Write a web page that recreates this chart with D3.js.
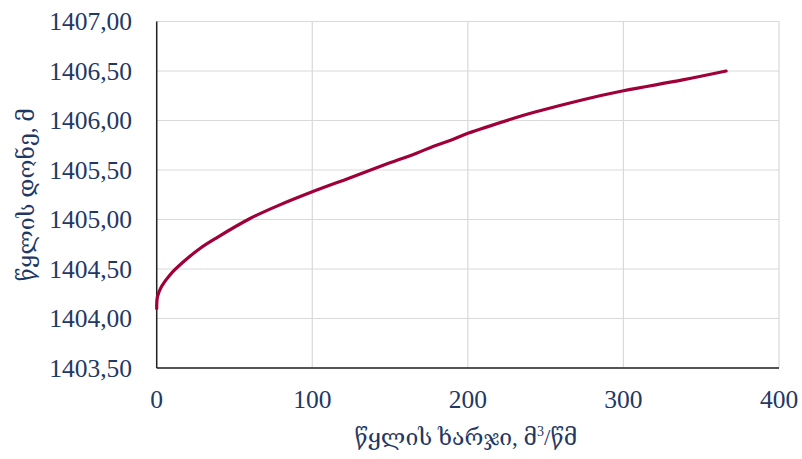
<!DOCTYPE html>
<html><head><meta charset="utf-8">
<script src="https://cdn.jsdelivr.net/npm/d3@7"></script>
<style>body{margin:0;background:#fff}</style>
</head><body>
<svg id="c" width="802" height="459"></svg>
<script>
const discharge = [0, 0.5, 3, 8.5, 17, 28, 39, 60, 78, 100, 124, 146, 167, 178, 189, 200, 227, 242, 274, 300, 338, 366];
const level = [1404.10, 1404.22, 1404.32, 1404.44, 1404.57, 1404.71, 1404.82, 1405.01, 1405.14, 1405.28, 1405.42, 1405.55, 1405.67, 1405.74, 1405.80, 1405.87, 1406.01, 1406.08, 1406.21, 1406.30, 1406.41, 1406.50];
const xTicks = [0, 100, 200, 300, 400];
const yTicks = [1403.5, 1404.0, 1404.5, 1405.0, 1405.5, 1406.0, 1406.5, 1407.0];
const xTitle = "წყლის ხარჯი, მ";
const yTitle = "წყლის დონე, მ";

const svg = d3.select("#c");
const L = 156.7, R = 779, T = 21.5, B = 368;
const x = d3.scaleLinear().domain([0, 400]).range([L, R]);
const y = d3.scaleLinear().domain([1403.5, 1407.0]).range([B, T]);
const navy = "#1f3864";
const font = "'Liberation Serif','DejaVu Serif',serif";

// grid
svg.append("g").selectAll("line").data(yTicks).join("line")
  .attr("x1", L).attr("x2", R).attr("y1", d => y(d)).attr("y2", d => y(d))
  .attr("stroke", "#d9d9d9").attr("stroke-width", 1.2);
svg.append("g").selectAll("line").data(xTicks).join("line")
  .attr("y1", T).attr("y2", B).attr("x1", d => x(d)).attr("x2", d => x(d))
  .attr("stroke", "#d9d9d9").attr("stroke-width", 1.2);

// axes lines
svg.append("line").attr("x1", L).attr("x2", L).attr("y1", T).attr("y2", B).attr("stroke", "#222").attr("stroke-width", 1.5);
svg.append("line").attr("x1", L).attr("x2", R).attr("y1", B).attr("y2", B).attr("stroke", "#222").attr("stroke-width", 1.5);

// tick labels
const fmt = d => d.toFixed(2).replace(".", ",");
svg.append("g").selectAll("text").data(yTicks).join("text")
  .attr("x", 132).attr("y", d => y(d)).attr("dy", "0.34em")
  .attr("text-anchor", "end").attr("font-family", font).attr("font-size", 25.5)
  .attr("fill", navy).text(fmt);
svg.append("g").selectAll("text").data(xTicks).join("text")
  .attr("x", d => x(d)).attr("y", 408)
  .attr("text-anchor", "middle").attr("font-family", font).attr("font-size", 25.5)
  .attr("fill", navy).text(d => d);

// line
const pts = discharge.map((d, i) => [d, level[i]]);
svg.append("path").datum(pts)
  .attr("d", d3.line().x(d => x(d[0])).y(d => y(d[1])).curve(d3.curveCatmullRom.alpha(0.5)))
  .attr("fill", "none").attr("stroke", "#a0003a").attr("stroke-width", 3.2).attr("stroke-linecap", "round");

// titles
const xt = svg.append("text").attr("x", (L + R) / 2 - 2).attr("y", 445)
  .attr("text-anchor", "middle").attr("font-family", font).attr("font-size", 23).attr("fill", navy);
xt.append("tspan").text(xTitle);
xt.append("tspan").attr("font-size", 14).attr("dy", -9).text("3");
xt.append("tspan").attr("dy", 9).text("/წმ");

svg.append("text").attr("transform", `translate(34,${(T + B) / 2}) rotate(-90)`)
  .attr("text-anchor", "middle").attr("font-family", font).attr("font-size", 23).attr("fill", navy)
  .text(yTitle);
</script>
</body></html>
